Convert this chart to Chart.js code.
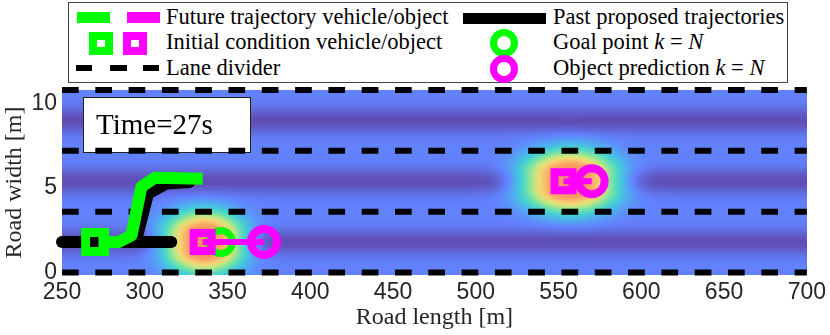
<!DOCTYPE html>
<html>
<head>
<meta charset="utf-8">
<script src="https://cdn.jsdelivr.net/npm/chart.js@4.4.1/dist/chart.umd.min.js"></script>
<style>
  html, body { margin: 0; padding: 0; background: #fff; }
  #wrap { position: relative; width: 830px; height: 335px; }
  #wrap canvas { position: absolute; left: 0; top: 0; }
  .txt { position: absolute; font-family: 'Liberation Serif', serif; font-size: 22.5px; line-height: 26px; color: #000; white-space: nowrap; }
  .ico { position: absolute; box-sizing: border-box; }
  #legend { position: absolute; left: 68px; top: 2px; width: 720px; height: 81px; box-sizing: border-box; border: 1px solid #444; background: #fff; }
  #time { position: absolute; left: 96px; top: 107px; font-family: 'Liberation Serif', serif; font-size: 29px; line-height: 34px; }
</style>
</head>
<body>
<div id="wrap">
  <canvas id="myChart" width="830" height="335"></canvas>
  <div id="legend"></div>
  <!-- legend icons -->
  <div class="ico" style="left:77px;top:12px;width:33px;height:11px;background:#00ff00"></div>
  <div class="ico" style="left:127px;top:12px;width:33px;height:11px;background:#ff00ff"></div>
  <div class="ico" style="left:89px;top:32px;width:24px;height:23px;border:8px solid #00ff00;background:#fff"></div>
  <div class="ico" style="left:123px;top:32px;width:24px;height:23px;border:8px solid #ff00ff;background:#fff"></div>
  <div class="ico" style="left:76px;top:65px;width:16px;height:6px;background:#000"></div>
  <div class="ico" style="left:110px;top:65px;width:17px;height:6px;background:#000"></div>
  <div class="ico" style="left:143px;top:65px;width:16px;height:6px;background:#000"></div>
  <div class="ico" style="left:463px;top:13px;width:83px;height:11px;background:#000"></div>
  <div class="ico" style="left:490px;top:29px;width:28px;height:28px;border-radius:50%;border:7px solid #00ff00;background:#fff"></div>
  <div class="ico" style="left:490px;top:55px;width:28px;height:28px;border-radius:50%;border:7px solid #ff00ff;background:#fff"></div>
  <div class="txt" style="left:166px;top:4px">Future trajectory vehicle/object</div>
  <div class="txt" style="left:166px;top:29px">Initial condition vehicle/object</div>
  <div class="txt" style="left:166px;top:55px">Lane divider</div>
  <div class="txt" style="left:553px;top:4px">Past proposed trajectories</div>
  <div class="txt" style="left:553px;top:29px">Goal point <i>k</i> = <i>N</i></div>
  <div class="txt" style="left:553px;top:55px">Object prediction <i>k</i> = <i>N</i></div>
  <div id="time">Time=27s</div>
</div>
<script>
let xTicks = [250, 300, 350, 400, 450, 500, 550, 600, 650, 700];
let yTicks = [0, 5, 10];
let laneDividers = [0, 3.6, 7.2, 10.8];
let laneCenters = [1.8, 5.4, 9.0];

// past proposed trajectories (black)
let pastX1 = [250, 316];
let pastY1 = [1.8, 1.8];
let pastX2 = [289, 295, 302, 313, 327];
let pastY2 = [1.8, 2.0, 4.67, 5.27, 5.36];

// future trajectory vehicle (green)
let futureX = [272, 284, 292, 298, 306, 335];
let futureY = [1.8, 1.8, 2.2, 5.07, 5.6, 5.55];

let vehX = [270];
let vehY = [1.8];
let goalX = [346];
let goalY = [1.8];

// objects: initial condition and prediction at k = N
let objX = [335, 553];
let objY = [1.8, 5.4];
let predX = [372, 570];
let predY = [1.8, 5.4];

// peaks of the potential field
let fieldX = [336, 557];
let fieldY = [1.8, 5.4];
let fieldSx = [25, 30];
let fieldSy = [1.8, 1.8];

const pts = (xs, ys) => xs.map((x, i) => ({x: x, y: ys[i]}));

const cmap = [
  [0.00, [95, 78, 182]],
  [0.12, [98, 130, 253]],
  [0.22, [80, 172, 240]],
  [0.32, [66, 206, 214]],
  [0.45, [112, 226, 170]],
  [0.58, [196, 230, 128]],
  [0.68, [246, 214, 116]],
  [0.80, [250, 164, 102]],
  [0.95, [244, 128, 96]]
];

function colorAt(v) {
  if (v <= cmap[0][0]) return cmap[0][1];
  for (let k = 1; k < cmap.length; k++) {
    if (v <= cmap[k][0]) {
      const t = (v - cmap[k - 1][0]) / (cmap[k][0] - cmap[k - 1][0]);
      const a = cmap[k - 1][1], b = cmap[k][1];
      return [a[0] + (b[0] - a[0]) * t, a[1] + (b[1] - a[1]) * t, a[2] + (b[2] - a[2]) * t];
    }
  }
  return cmap[cmap.length - 1][1];
}

function fieldAt(xv, yv) {
  let d = Infinity;
  laneCenters.forEach(c => { d = Math.min(d, Math.abs(yv - c)); });
  let v = 0.12 * (1 - Math.exp(-Math.pow(d / 0.75, 2)));
  for (let k = 0; k < fieldX.length; k++) {
    const dx = (xv - fieldX[k]) / fieldSx[k];
    const dy = (yv - fieldY[k]) / fieldSy[k];
    v += 0.86 * Math.exp(-Math.pow(dx * dx + dy * dy, 1.4));
  }
  return v;
}

const fieldPlugin = {
  id: 'field',
  beforeDatasetsDraw(chart) {
    const ctx = chart.ctx;
    const a = chart.chartArea;
    const xs = chart.scales.x, ys = chart.scales.y;
    const x0 = Math.round(a.left), y0 = Math.round(a.top);
    const w = Math.round(a.right) - x0, h = Math.round(a.bottom) - y0;
    const img = ctx.createImageData(w, h);
    for (let j = 0; j < h; j++) {
      const yv = ys.getValueForPixel(y0 + j + 0.5);
      for (let i = 0; i < w; i++) {
        const xv = xs.getValueForPixel(x0 + i + 0.5);
        const c = colorAt(fieldAt(xv, yv));
        const p = (j * w + i) * 4;
        img.data[p] = c[0];
        img.data[p + 1] = c[1];
        img.data[p + 2] = c[2];
        img.data[p + 3] = 255;
      }
    }
    ctx.putImageData(img, x0, y0);
    // box behind the time label
    ctx.save();
    ctx.fillStyle = '#fff';
    ctx.strokeStyle = '#222';
    ctx.lineWidth = 1;
    ctx.fillRect(x0 + 21, y0 + 7, 167, 55);
    ctx.strokeRect(x0 + 21.5, y0 + 7.5, 167, 55);
    ctx.restore();
  }
};

const lineSet = (data, color, width, order) => ({
  data: data, showLine: true, borderColor: color, borderWidth: width,
  pointRadius: 0, borderCapStyle: 'round', borderJoinStyle: 'round',
  fill: false, clip: false, order: order
});

const markerSet = (data, style, radius, color, width, order) => ({
  data: data, showLine: false, pointStyle: style, pointRadius: radius,
  pointBorderWidth: width, pointBorderColor: color,
  pointBackgroundColor: 'rgba(0,0,0,0)', clip: false, order: order
});

let datasets = [];
laneDividers.forEach(yv => {
  let ds = lineSet([{x: 250, y: yv}, {x: 700, y: yv}], '#000', 6, 20);
  ds.borderDash = [16.7, 16.6];
  ds.borderCapStyle = 'butt';
  datasets.push(ds);
});
datasets.push(lineSet(pts(pastX1, pastY1), '#000', 12, 15));
datasets.push(lineSet(pts(pastX2, pastY2), '#000', 12, 15));
let green = lineSet(pts(futureX, futureY), '#00ff00', 12, 12);
green.borderCapStyle = 'butt';
datasets.push(green);
datasets.push(markerSet(pts(vehX, vehY), 'rect', 13.4, '#00ff00', 9, 10));
datasets.push(markerSet(pts(goalX, goalY), 'circle', 11.5, '#00ff00', 7, 9));
objX.forEach((x, i) => {
  let ds = lineSet([{x: x, y: objY[i]}, {x: predX[i], y: predY[i]}], '#ff00ff', 6, 5);
  ds.borderCapStyle = 'butt';
  datasets.push(ds);
});
datasets.push(markerSet(pts(objX, objY), 'rect', 12.7, '#ff00ff', 8, 4));
datasets.push(markerSet(pts(predX, predY), 'circle', 13, '#ff00ff', 8, 3));

let myChart = document.getElementById('myChart').getContext('2d');

let chart = new Chart(myChart, {
  type: 'scatter',
  data: { datasets: datasets },
  options: {
    responsive: false,
    animation: false,
    events: [],
    layout: { padding: { top: 90, right: 19, left: 0, bottom: 0 } },
    plugins: { legend: { display: false }, tooltip: { enabled: false } },
    scales: {
      x: {
        type: 'linear', min: 250, max: 700,
        afterBuildTicks: s => { s.ticks = xTicks.map(v => ({value: v})); },
        afterFit: s => { s.height = 60; },
        grid: { display: false, drawTicks: false },
        border: { display: false },
        ticks: { font: { family: 'Liberation Sans', size: 23 }, color: '#262626', padding: 4, maxRotation: 0 },
        title: { display: true, text: 'Road length [m]', font: { family: 'Liberation Serif', size: 24 }, color: '#262626', padding: { top: 0, bottom: 3 } }
      },
      y: {
        type: 'linear', min: -0.15, max: 10.8,
        afterBuildTicks: s => { s.ticks = yTicks.map(v => ({value: v})); },
        afterFit: s => { s.width = 62; },
        grid: { display: false, drawTicks: false },
        border: { display: false },
        ticks: { font: { family: 'Liberation Sans', size: 23 }, color: '#262626', padding: 5 },
        title: { display: true, text: 'Road width [m]', font: { family: 'Liberation Serif', size: 24 }, color: '#262626', padding: { top: 0, bottom: 0 } }
      }
    }
  },
  plugins: [fieldPlugin]
});
</script>
</body>
</html>
